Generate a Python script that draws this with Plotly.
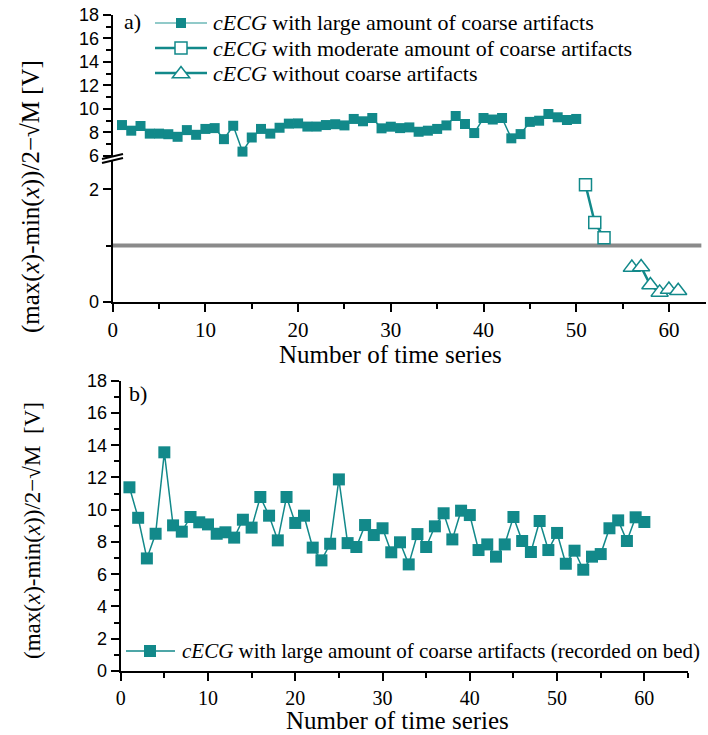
import plotly.graph_objects as go

# ---- data -------------------------------------------------------------
# panel a) : three groups of time series
large_x = list(range(1, 51))
large_y = [8.63, 8.15, 8.55, 7.9, 7.9, 7.85, 7.63, 8.2, 7.8, 8.3,
           8.37, 7.43, 8.57, 6.37, 7.57, 8.3, 7.9, 8.4, 8.75, 8.77,
           8.5, 8.5, 8.63, 8.7, 8.6, 9.15, 8.95, 9.23, 8.35, 8.49,
           8.37, 8.43, 8.06, 8.15, 8.3, 8.6, 9.4, 8.72, 7.95, 9.23,
           9.1, 9.23, 7.5, 7.86, 8.9, 9.0, 9.57, 9.29, 9.06, 9.15]

moderate_x = [51, 52, 53]
moderate_y = [2.08, 1.41, 1.14]

none_x = [56, 57, 58, 59, 60, 61]
none_y = [0.61, 0.62, 0.30, 0.17, 0.22, 0.20]

threshold = 1.0
threshold_end = 63.5

# panel b) : recordings on bed
bed_x = list(range(1, 61))
bed_y = [11.39, 9.5, 6.98, 8.51, 13.56, 9.03, 8.64, 9.55, 9.22, 9.09,
         8.51, 8.6, 8.27, 9.38, 8.89, 10.79, 9.63, 8.1, 10.79, 9.18,
         9.63, 7.65, 6.86, 7.89, 11.88, 7.93, 7.69, 9.05, 8.43, 8.85,
         7.36, 7.98, 6.61, 8.49, 7.69, 8.97, 9.78, 8.16, 9.94, 9.67,
         7.5, 7.85, 7.09, 7.85, 9.55, 8.06, 7.38, 9.3, 7.5, 8.56,
         6.65, 7.46, 6.28, 7.09, 7.25, 8.85, 9.34, 8.06, 9.53, 9.24]

x_ticks = [0, 10, 20, 30, 40, 50, 60]
upper_ticks = [6, 8, 10, 12, 14, 16, 18]
lower_ticks = [0, 2]
bed_ticks = [0, 2, 4, 6, 8, 10, 12, 14, 16, 18]

legend_a = ["<i>cECG</i> with large amount of coarse artifacts",
            "<i>cECG</i> with moderate amount of coarse artifacts",
            "<i>cECG</i> without coarse artifacts"]
legend_b = "<i>cECG</i> with large amount of coarse artifacts (recorded on bed)"
y_title_a = "(max(<i>x</i>)-min(<i>x</i>))/2\u2212\u221aM [V]"
y_title_b = "(max(<i>x</i>)-min(<i>x</i>))/2\u2212\u221aM  [V]"
x_title = "Number of time series"

# ---- styling ----------------------------------------------------------
W, H = 708, 735
TEAL = "#12898a"
LIGHT_TEAL = "#6cb9b7"
SERIF = "Liberation Serif"
SANS = "Liberation Sans"


def fx(px):
    return px / W


def fy(py):
    return 1 - py / H


fig = go.Figure()

# panel a) traces
fig.add_trace(go.Scatter(x=large_x, y=large_y, xaxis="x", yaxis="y2",
                         mode="lines+markers",
                         line=dict(color=TEAL, width=1.5),
                         marker=dict(symbol="square", size=10, color=TEAL),
                         cliponaxis=False, showlegend=False))
fig.add_trace(go.Scatter(x=moderate_x, y=moderate_y, xaxis="x", yaxis="y",
                         mode="lines+markers",
                         line=dict(color=TEAL, width=2.5),
                         marker=dict(symbol="square", size=12, color="white",
                                     line=dict(color=TEAL, width=1.5)),
                         cliponaxis=False, showlegend=False))
fig.add_trace(go.Scatter(x=none_x, y=none_y, xaxis="x", yaxis="y",
                         mode="lines+markers",
                         line=dict(color=TEAL, width=2.5),
                         marker=dict(symbol="triangle-up", size=15, color="white",
                                     line=dict(color=TEAL, width=1.5)),
                         cliponaxis=False, showlegend=False))

# panel b) trace
fig.add_trace(go.Scatter(x=bed_x, y=bed_y, xaxis="x2", yaxis="y3",
                         mode="lines+markers",
                         line=dict(color=TEAL, width=1.5),
                         marker=dict(symbol="square", size=12, color=TEAL),
                         cliponaxis=False, showlegend=False))

# threshold line in panel a)
shapes = [dict(type="line", xref="x", yref="y", x0=0, x1=threshold_end,
               y0=threshold, y1=threshold, layer="below",
               line=dict(color="#8a8a8a", width=4))]

# axis break marks
for off in (0, 4):
    shapes.append(dict(type="line", xref="paper", yref="paper",
                       x0=fx(102), y0=fy(159 + off), x1=fx(123), y1=fy(154 + off),
                       line=dict(color="black", width=2)))


def legend_line(x0, x1, y, color, width):
    return dict(type="line", xref="paper", yref="paper",
                x0=fx(x0), x1=fx(x1), y0=fy(y), y1=fy(y),
                line=dict(color=color, width=width))


def legend_square(cx, cy, half, filled):
    return dict(type="rect", xref="paper", yref="paper",
                x0=fx(cx - half), x1=fx(cx + half),
                y0=fy(cy + half), y1=fy(cy - half),
                fillcolor=TEAL if filled else "white",
                line=dict(color=TEAL, width=0 if filled else 1.5))


def legend_triangle(cx, cy, r):
    rt = r * 2 / 3 ** 0.5
    path = (f"M {fx(cx - rt)} {fy(cy + r / 2)} L {fx(cx + rt)} {fy(cy + r / 2)} "
            f"L {fx(cx)} {fy(cy - r)} Z")
    return dict(type="path", xref="paper", yref="paper", path=path,
                fillcolor="white", line=dict(color=TEAL, width=1.5))


rows = [23, 48, 73]
shapes.append(legend_line(155, 207, rows[0], LIGHT_TEAL, 1.5))
shapes.append(legend_square(181, rows[0], 5, True))
shapes.append(legend_line(155, 207, rows[1], TEAL, 2.5))
shapes.append(legend_square(181, rows[1], 6, False))
shapes.append(legend_line(155, 207, rows[2], TEAL, 2.5))
shapes.append(legend_triangle(181, rows[2] + 1, 7.5))

shapes.append(legend_line(126, 175, 651, TEAL, 1.5))
shapes.append(legend_square(150, 651, 6, True))

annotations = []
for text, yy in zip(legend_a, rows):
    annotations.append(dict(text=text, xref="paper", yref="paper",
                            x=fx(211), y=fy(yy), xanchor="left", yanchor="middle",
                            showarrow=False, font=dict(family=SERIF, size=22, color="black")))
annotations.append(dict(text=legend_b, xref="paper", yref="paper",
                        x=fx(180), y=fy(651), xanchor="left", yanchor="middle",
                        showarrow=False, font=dict(family=SERIF, size=21, color="black")))

# panel labels
annotations.append(dict(text="a)", xref="paper", yref="paper", x=fx(122), y=fy(22),
                        xanchor="left", yanchor="middle", showarrow=False,
                        font=dict(family=SERIF, size=22, color="black")))
annotations.append(dict(text="b)", xref="paper", yref="paper", x=fx(127), y=fy(393),
                        xanchor="left", yanchor="middle", showarrow=False,
                        font=dict(family=SERIF, size=22, color="black")))

# axis titles
annotations.append(dict(text=y_title_a, xref="paper", yref="paper", x=fx(31), y=fy(197),
                        xanchor="center", yanchor="middle", textangle=-90, showarrow=False,
                        font=dict(family=SERIF, size=25, color="black")))
annotations.append(dict(text=y_title_b, xref="paper", yref="paper", x=fx(32), y=fy(531),
                        xanchor="center", yanchor="middle", textangle=-90, showarrow=False,
                        font=dict(family=SERIF, size=23, color="black")))
annotations.append(dict(text=x_title, xref="paper", yref="paper", x=fx(390), y=fy(354),
                        xanchor="center", yanchor="middle", showarrow=False,
                        font=dict(family=SERIF, size=25, color="black")))
annotations.append(dict(text=x_title, xref="paper", yref="paper", x=fx(397), y=fy(720),
                        xanchor="center", yanchor="middle", showarrow=False,
                        font=dict(family=SERIF, size=25, color="black")))

axis_common = dict(showline=True, linecolor="black", linewidth=2, showgrid=False,
                   zeroline=False, ticks="outside", tickcolor="black", tickwidth=2,
                   automargin=False)

fig.update_layout(
    width=W, height=H,
    margin=dict(l=0, r=0, t=0, b=0),
    paper_bgcolor="white", plot_bgcolor="white",
    showlegend=False,
    shapes=shapes,
    annotations=annotations,
    xaxis=dict(domain=[fx(112.7), fx(706)], range=[0, 64], anchor="y",
               tickvals=x_ticks, ticklen=8,
               tickfont=dict(family=SERIF, size=21, color="black"),
               minor=dict(ticks="outside", dtick=5, tick0=0, ticklen=5,
                          tickwidth=2, tickcolor="black"),
               **axis_common),
    yaxis=dict(domain=[fy(302), fy(161)], range=[0, 2.5], anchor="x",
               tickvals=lower_ticks, ticklen=8,
               tickfont=dict(family=SANS, size=18, color="black"),
               minor=dict(ticks="outside", dtick=1, tick0=0, ticklen=5,
                          tickwidth=2, tickcolor="black"),
               **axis_common),
    yaxis2=dict(domain=[fy(157), fy(15)], range=[5.91, 18], anchor="x",
                tickvals=upper_ticks, ticklen=8,
                tickfont=dict(family=SANS, size=18, color="black"),
                minor=dict(ticks="outside", dtick=1, tick0=0, ticklen=5,
                           tickwidth=2, tickcolor="black"),
                **axis_common),
    xaxis2=dict(domain=[fx(120.7), fx(688)], range=[0, 65], anchor="y3",
                tickvals=x_ticks, ticklen=8,
                tickfont=dict(family=SERIF, size=20, color="black"),
                minor=dict(ticks="outside", dtick=5, tick0=0, ticklen=5,
                           tickwidth=2, tickcolor="black"),
                **axis_common),
    yaxis3=dict(domain=[fy(671), fy(380.7)], range=[0, 18], anchor="x2",
                tickvals=bed_ticks, ticklen=8,
                tickfont=dict(family=SANS, size=18, color="black"),
                minor=dict(ticks="outside", dtick=1, tick0=0, ticklen=5,
                           tickwidth=2, tickcolor="black"),
                **axis_common),
)

fig.write_html("out.html")
